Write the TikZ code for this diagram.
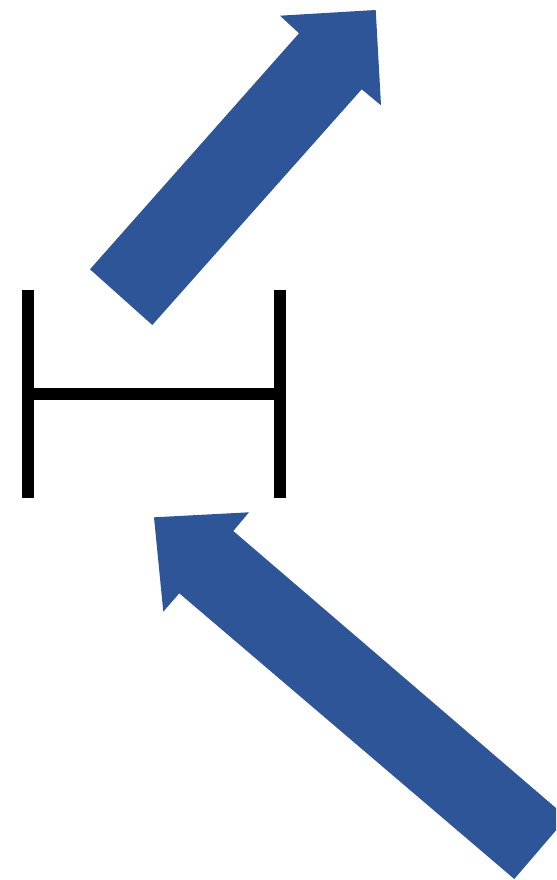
\documentclass[tikz,border=0pt]{standalone}
\usetikzlibrary{calc}
\definecolor{arrowblue}{RGB}{46,85,151}
\tikzset{
  blockarrow/.style={
    fill=arrowblue,
    draw=none
  },
  beam/.style={
    draw=black,
    line width=9pt
  }
}
\begin{document}
\begin{tikzpicture}[x=0.75pt, y=-0.75pt]
  \useasboundingbox (0,0) rectangle (556,880);
  \clip (0,0) rectangle (556,880);

  % H-shaped bracket
  \coordinate (lefttop) at (28.3,290);
  \coordinate (leftbot) at (28.3,497.7);
  \coordinate (righttop) at (280,290);
  \coordinate (rightbot) at (280,497.7);
  \draw[beam] (lefttop) -- (leftbot);
  \draw[beam] (righttop) -- (rightbot);
  \draw[beam] ($(lefttop)!0.5!(leftbot)+(0,-0.05)$) -- ($(righttop)!0.5!(rightbot)+(0,-0.05)$);

  % upper arrow (pointing up-right)
  \fill[blockarrow] (90,269.3) -- (299,33.3) -- (280,15.7) -- (375.7,10)
    -- (381,105.3) -- (361.7,89.3) -- (152.3,325) -- cycle;

  % lower arrow (pointing up-left)
  \fill[blockarrow] (567,817.5) -- (233.3,531) -- (249,512.3) -- (154,517.3)
    -- (163.3,611.7) -- (179.3,593.3) -- (514.3,879) -- cycle;
\end{tikzpicture}
\end{document}
